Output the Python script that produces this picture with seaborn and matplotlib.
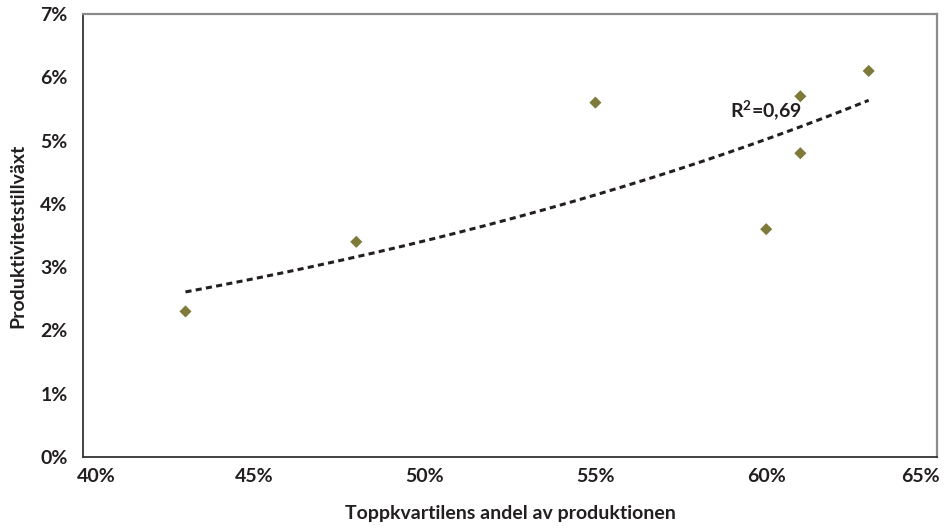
import numpy as np
import pandas as pd
import matplotlib
matplotlib.use("Agg")
import matplotlib.pyplot as plt
import seaborn as sns
from matplotlib.transforms import ScaledTranslation

# Data (percent)
top_quartile_share = [43, 48, 55, 60, 61, 61, 63]
productivity_growth = [2.3, 3.4, 5.6, 3.6, 4.8, 5.7, 6.1]
x_ticks = [40, 45, 50, 55, 60, 65]
y_ticks = [0, 1, 2, 3, 4, 5, 6, 7]
x_tick_labels = [f"{v}%" for v in x_ticks]
y_tick_labels = [f"{v}%" for v in y_ticks]
r2_label = r"R$^{\mathbf{2}}$=0,69"
x_label = "Toppkvartilens andel av produktionen"
y_label = "Produktivitetstillväxt"

df = pd.DataFrame({"x": top_quartile_share, "y": productivity_growth})

sns.set_theme(style="white")
plt.rcParams["font.family"] = ["Lato", "DejaVu Sans"]
plt.rcParams["font.weight"] = "bold"
plt.rcParams["mathtext.fontset"] = "custom"
plt.rcParams["mathtext.rm"] = "Lato:bold"
plt.rcParams["mathtext.bf"] = "Lato:bold"

text_color = "#231f20"
marker_color = "#7d7a3a"

fig = plt.figure(figsize=(9.47, 5.28), dpi=100)
ax = fig.add_axes([83 / 947, 71 / 528, 854 / 947, 443 / 528])

sns.scatterplot(data=df, x="x", y="y", marker="D", s=38, color=marker_color,
                edgecolor="none", ax=ax, zorder=3)

# Exponential trend line (Excel style: ln(y) linear fit)
b, a = np.polyfit(df["x"], np.log(df["y"]), 1)
xs = np.linspace(min(top_quartile_share), max(top_quartile_share), 200)
ys = np.exp(a) * np.exp(b * xs)
ax.plot(xs, ys, linestyle=(0, (2.0, 1.4)), color="#231f20", linewidth=2.2, zorder=2)

ax.text(58.95, 5.36, r2_label, fontsize=14, fontweight="bold", color=text_color)

ax.set_xlim(40, 65)
ax.set_ylim(0, 7)
ax.set_xticks(x_ticks, x_tick_labels, fontweight="bold")
ax.set_yticks(y_ticks, y_tick_labels, fontweight="bold")

ax.tick_params(axis="x", direction="in", length=10, width=1.2, color="#555555",
               labelsize=14, labelcolor=text_color, pad=8)
ax.tick_params(axis="y", direction="in", length=21, width=1.2, color="#555555",
               labelsize=14, labelcolor=text_color, pad=11)

xt = ax.get_xticklabels()
xt[0].set_transform(xt[0].get_transform() + ScaledTranslation(13 / 100, 0, fig.dpi_scale_trans))
xt[-1].set_transform(xt[-1].get_transform() + ScaledTranslation(-17 / 100, 0, fig.dpi_scale_trans))

for side in ["left", "bottom"]:
    ax.spines[side].set_color("#333333")
    ax.spines[side].set_linewidth(1.3)
for side in ["top", "right"]:
    ax.spines[side].set_color("#8a8a8a")
    ax.spines[side].set_linewidth(1.6)

ax.set_xlabel(x_label, fontsize=14, fontweight="bold", color=text_color, labelpad=14)
ax.set_ylabel(y_label, fontsize=14, fontweight="bold", color=text_color, labelpad=10)

fig.savefig("out.png", dpi=100)
